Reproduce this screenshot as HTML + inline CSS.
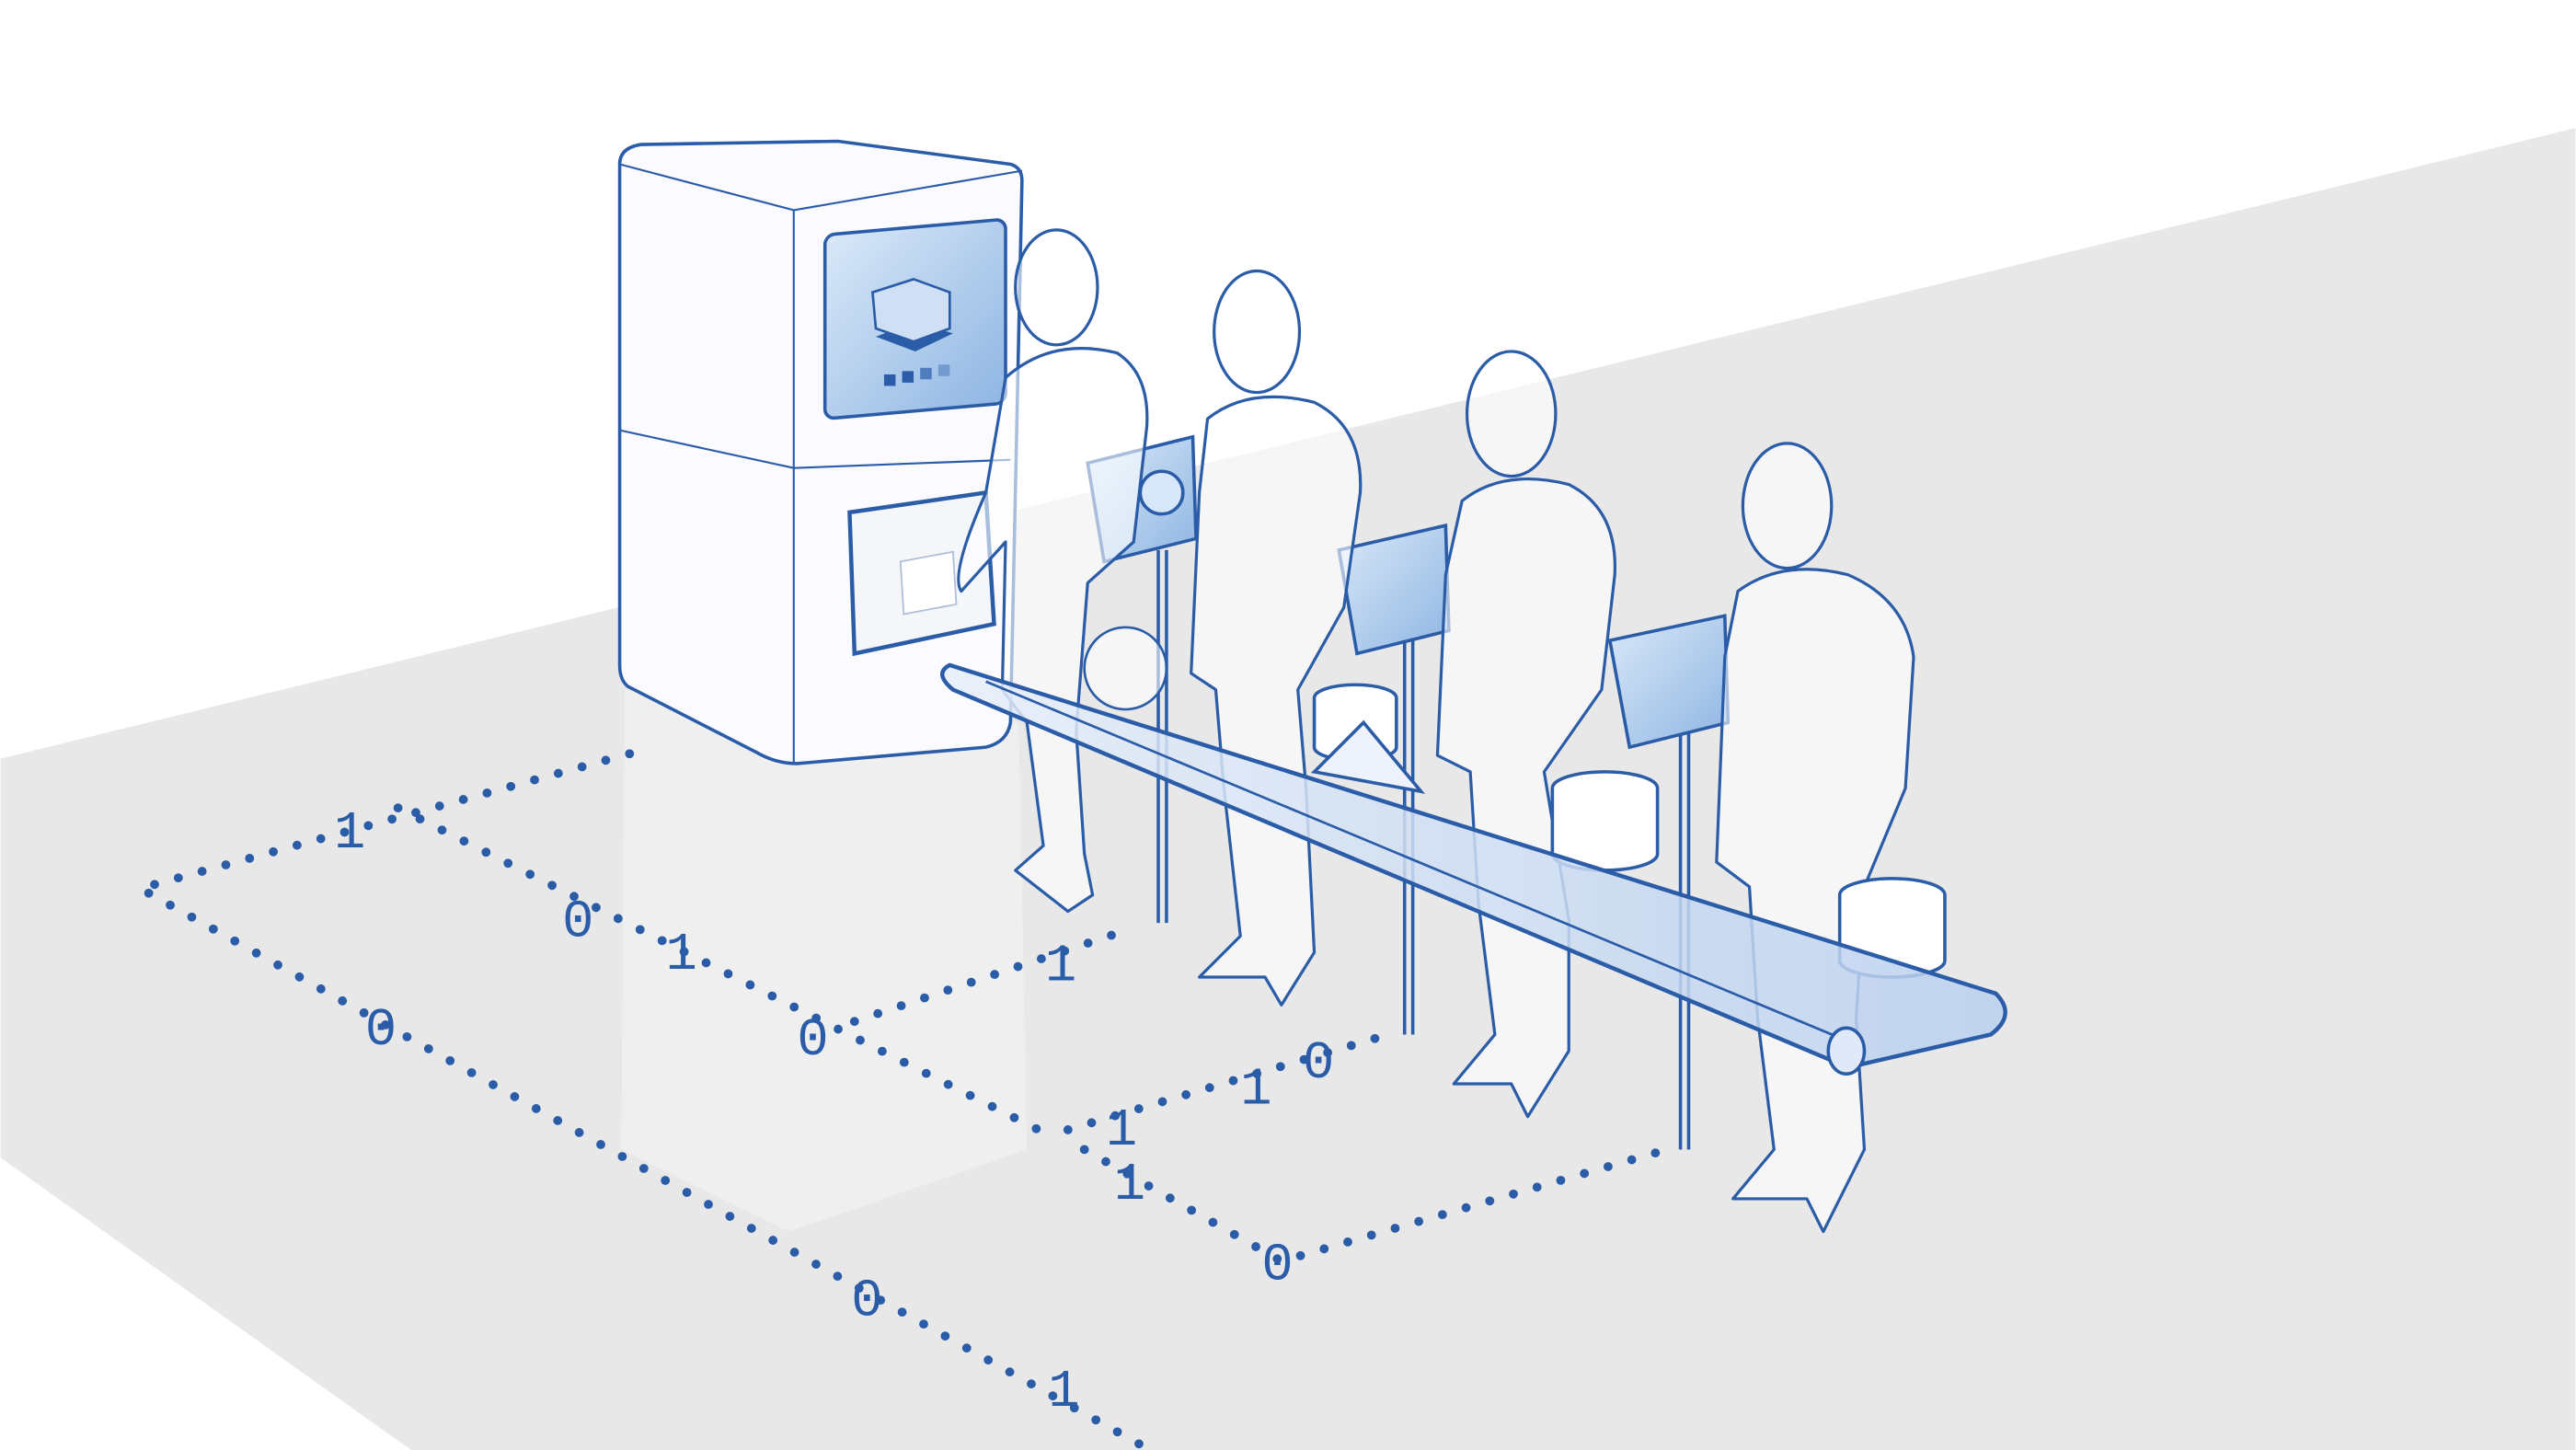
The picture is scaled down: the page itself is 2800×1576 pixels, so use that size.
<!DOCTYPE html>
<html><head><meta charset="utf-8"><style>
html,body{margin:0;padding:0;background:#fff;}
svg{display:block;}
text{font-family:"Liberation Mono",monospace;font-weight:normal;fill:#2a5ca8;}
</style></head><body>
<svg width="2800" height="1576" viewBox="0 0 1568 883" xmlns="http://www.w3.org/2000/svg">
<defs>
<linearGradient id="scr" x1="0" y1="0" x2="1" y2="1"><stop offset="0" stop-color="#d9e8f8"/><stop offset="1" stop-color="#8fb6e3"/></linearGradient>
<linearGradient id="belt" x1="0" y1="0" x2="1" y2="0"><stop offset="0" stop-color="#e6eef9"/><stop offset="1" stop-color="#b9cfee"/></linearGradient>
</defs>
<rect width="1568" height="883" fill="#fff"/>
<polygon points="0,462 1568,78 1568,883 250,883 0,705" fill="#e8e8e8"/>
<polygon points="380,420 620,440 625,700 480,750 378,700" fill="#efefef" opacity="0.9"/>
<g fill="none" stroke="#2a5ca8" stroke-width="5.5" stroke-linecap="round" stroke-dasharray="0 15">
<polyline points="383,459 85,541 700,883"/>
<polyline points="242,492 640,692"/>
<polyline points="520,622 690,565"/>
<polyline points="650,688 845,630"/>
<polyline points="660,700 780,768 1015,700"/>
</g>
<g font-size="32">
<text x="203" y="516">1</text>
<text x="342" y="570">0</text>
<text x="405" y="590">1</text>
<text x="485" y="642" fill="#6f8fc0">0</text>
<text x="222" y="636">0</text>
<text x="518" y="801">0</text>
<text x="638" y="856">1</text>
<text x="636" y="597">1</text>
<text x="673" y="697">1</text>
<text x="755" y="672">1</text>
<text x="793" y="656">0</text>
<text x="678" y="730">1</text>
<text x="768" y="779">0</text>
</g>
<g stroke="#2a5ca8" stroke-width="2" fill="#fff">
<path d="M377,100 Q377,90 390,88 L510,86 L615,100 Q622,102 622,110 L615,440 Q613,452 600,455 L485,465 Q472,465 460,458 L382,418 Q377,414 377,405 Z" fill="#fbfbfd"/>
<path d="M377,100 L483,128 L622,104" fill="none" stroke-width="1.2"/>
<line x1="483" y1="128" x2="483" y2="465" stroke-width="1.2"/>
<path d="M483,285 L615,280" fill="none" stroke-width="1.2"/>
<path d="M377,262 L483,285" fill="none" stroke-width="1.2"/>
<rect x="502" y="140" width="110" height="112" rx="6" fill="url(#scr)" transform="skewY(-5) translate(0,47)"/>
<path d="M517,312 L600,300 L605,380 L520,398 Z" fill="#f4f6fa" stroke-width="2.5"/>
<path d="M548,342 L580,336 L582,368 L550,374 Z" fill="#fff" stroke="#aebfd8" stroke-width="1"/>
</g>
<g fill="#2a5ca8"><rect x="538" y="228" width="7" height="7"/><rect x="549" y="226" width="7" height="7"/><rect x="560" y="224" width="7" height="7" opacity=".7"/><rect x="571" y="222" width="7" height="7" opacity=".4"/>
<path d="M533,205 L557,214 L580,203 L557,196Z"/></g>
<path d="M531,178 L556,170 L578,178 L578,200 L556,208 L533,200Z" fill="#cfe0f4" stroke="#2a5ca8" stroke-width="1.5"/>
<g stroke="#2a5ca8" stroke-width="2">
<line x1="705" y1="335" x2="705" y2="562"/><line x1="710" y1="335" x2="710" y2="562"/>
<line x1="855" y1="390" x2="855" y2="630"/><line x1="860" y1="390" x2="860" y2="630"/>
<line x1="1023" y1="445" x2="1023" y2="700"/><line x1="1028" y1="445" x2="1028" y2="700"/>
<path d="M662,282 L726,266 L728,328 L672,342 Z" fill="url(#scr)"/>
<path d="M815,335 L880,320 L882,384 L826,398 Z" fill="url(#scr)"/>
<path d="M980,390 L1050,375 L1052,440 L992,455 Z" fill="url(#scr)"/>
<circle cx="707" cy="300" r="13" fill="#d9e8f8"/>
</g>
<g stroke="#2a5ca8" stroke-width="1.8" fill="rgba(255,255,255,0.6)" stroke-linejoin="round">
<g>
<ellipse cx="643" cy="175" rx="25" ry="35"/>
<path d="M612,230 Q640,205 680,215 Q700,228 698,260 L690,330 L662,355 L655,445 L660,520 L665,545 L650,555 L618,530 L635,515 L625,440 L610,420 L612,330 L585,360 Q578,350 600,300 Z"/>
</g>
<g>
<ellipse cx="765" cy="202" rx="26" ry="37"/>
<path d="M735,255 Q760,235 800,245 Q830,260 828,300 L818,370 L790,420 L795,480 L800,580 L780,612 L770,595 L730,595 L755,570 L745,480 L740,420 L725,410 L730,300 Z"/>
</g>
<g>
<ellipse cx="920" cy="252" rx="27" ry="38"/>
<path d="M890,305 Q915,285 955,295 Q985,310 983,350 L975,420 L940,470 L955,560 L955,640 L930,680 L920,660 L885,660 L910,630 L900,550 L895,470 L875,460 L880,350 Z"/>
</g>
<g>
<ellipse cx="1088" cy="308" rx="27" ry="38"/>
<path d="M1058,360 Q1085,340 1125,350 Q1160,365 1165,400 L1160,480 L1135,540 L1130,620 L1135,700 L1110,750 L1100,730 L1055,730 L1080,700 L1070,620 L1065,540 L1045,525 L1050,400 Z"/>
</g>
</g>
<g stroke="#2a5ca8" stroke-width="2">
<path d="M800,425 a25,8 0 0 1 50,0 v30 a25,8 0 0 1 -50,0 Z" fill="#fff"/>
<path d="M945,480 a32,10 0 0 1 64,0 v40 a32,10 0 0 1 -64,0 Z" fill="#fff"/>
<path d="M1120,545 a32,10 0 0 1 64,0 v40 a32,10 0 0 1 -64,0 Z" fill="#fff"/>
</g>
<path d="M578,405 L1215,605 Q1228,618 1212,630 L1125,650 L580,420 Q568,410 578,405 Z" fill="url(#belt)" fill-opacity="0.85" stroke="#2a5ca8" stroke-width="2.5"/>
<line x1="600" y1="415" x2="1120" y2="632" stroke="#2a5ca8" stroke-width="1.5"/>
<ellipse cx="1124" cy="640" rx="11" ry="14" fill="#dfe9f7" stroke="#2a5ca8" stroke-width="2"/>
<circle cx="685" cy="407" r="25" fill="rgba(255,255,255,0.6)" stroke="#2a5ca8" stroke-width="1.5"/>
<path d="M800,470 L830,440 L865,482 Z" fill="#eef3fb" stroke="#2a5ca8" stroke-width="2"/>
</svg>
</body></html>
